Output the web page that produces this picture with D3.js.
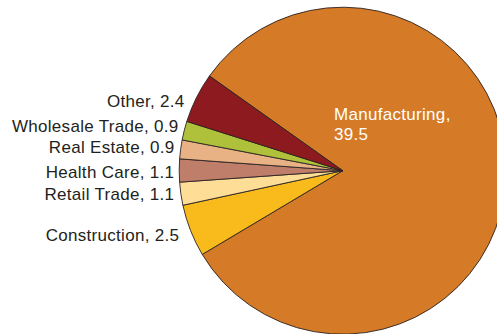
<!DOCTYPE html>
<html>
<head>
<meta charset="utf-8">
<script src="https://cdn.jsdelivr.net/npm/d3@7"></script>
<style>
  html, body { margin: 0; padding: 0; background: #ffffff; }
  svg { display: block; }
</style>
</head>
<body>
<svg id="chart" width="497" height="334"></svg>
<script>
// Employment by industry (slices drawn clockwise, starting with Manufacturing)
const categories = ["Manufacturing", "Construction", "Retail Trade", "Health Care", "Real Estate", "Wholesale Trade", "Other"];
const values     = [39.5, 2.5, 1.1, 1.1, 0.9, 0.9, 2.4];
const colors     = ["#D57A27", "#F8BB1B", "#FEDD96", "#BF7E6A", "#E9B285", "#AFC13B", "#8C1A1E"];

const width = 497, height = 334;
const cx = 342.7, cy = 170.7, radius = 163.5;
const start = -54.6 * Math.PI / 180;

// Label placement for each slice
const labelLayout = {
  "Manufacturing":   { x: 334,   y: 120, anchor: "start", fill: "#ffffff", wrap: true },
  "Construction":    { x: 179.3, y: 241, anchor: "end" },
  "Retail Trade":    { x: 174.3, y: 200, anchor: "end" },
  "Health Care":     { x: 174.3, y: 178.3, anchor: "end" },
  "Real Estate":     { x: 174.6, y: 153.3, anchor: "end" },
  "Wholesale Trade": { x: 178.6, y: 131.7, anchor: "end" },
  "Other":           { x: 184.6, y: 106.7, anchor: "end" }
};

const data = categories.map((c, i) => ({ name: c, value: values[i], color: colors[i] }));

const svg = d3.select("#chart");

const pie = d3.pie()
  .sort(null)
  .value(d => d.value)
  .startAngle(start)
  .endAngle(start + 2 * Math.PI);

const arc = d3.arc().innerRadius(0).outerRadius(radius);

const g = svg.append("g").attr("transform", `translate(${cx},${cy})`);

g.selectAll("path")
  .data(pie(data))
  .join("path")
  .attr("d", arc)
  .attr("fill", d => d.data.color)
  .attr("stroke", "#2a2223")
  .attr("stroke-width", 0.9)
  .attr("stroke-linejoin", "round");

// Labels: "Name, value"
const fmt = d3.format(".1f");
data.forEach(d => {
  const L = labelLayout[d.name];
  const t = svg.append("text")
    .attr("x", L.x)
    .attr("y", L.y)
    .attr("text-anchor", L.anchor)
    .attr("font-family", "'Liberation Sans', Arial, Helvetica, sans-serif")
    .attr("font-size", 17)
    .attr("fill", L.fill || "#231F20")
    .style("letter-spacing", "0.3px");
  if (L.wrap) {
    t.append("tspan").attr("x", L.x).text(d.name + ",");
    t.append("tspan").attr("x", L.x).attr("dy", 20).text(fmt(d.value));
  } else {
    t.text(`${d.name}, ${fmt(d.value)}`);
  }
});
</script>
</body>
</html>
